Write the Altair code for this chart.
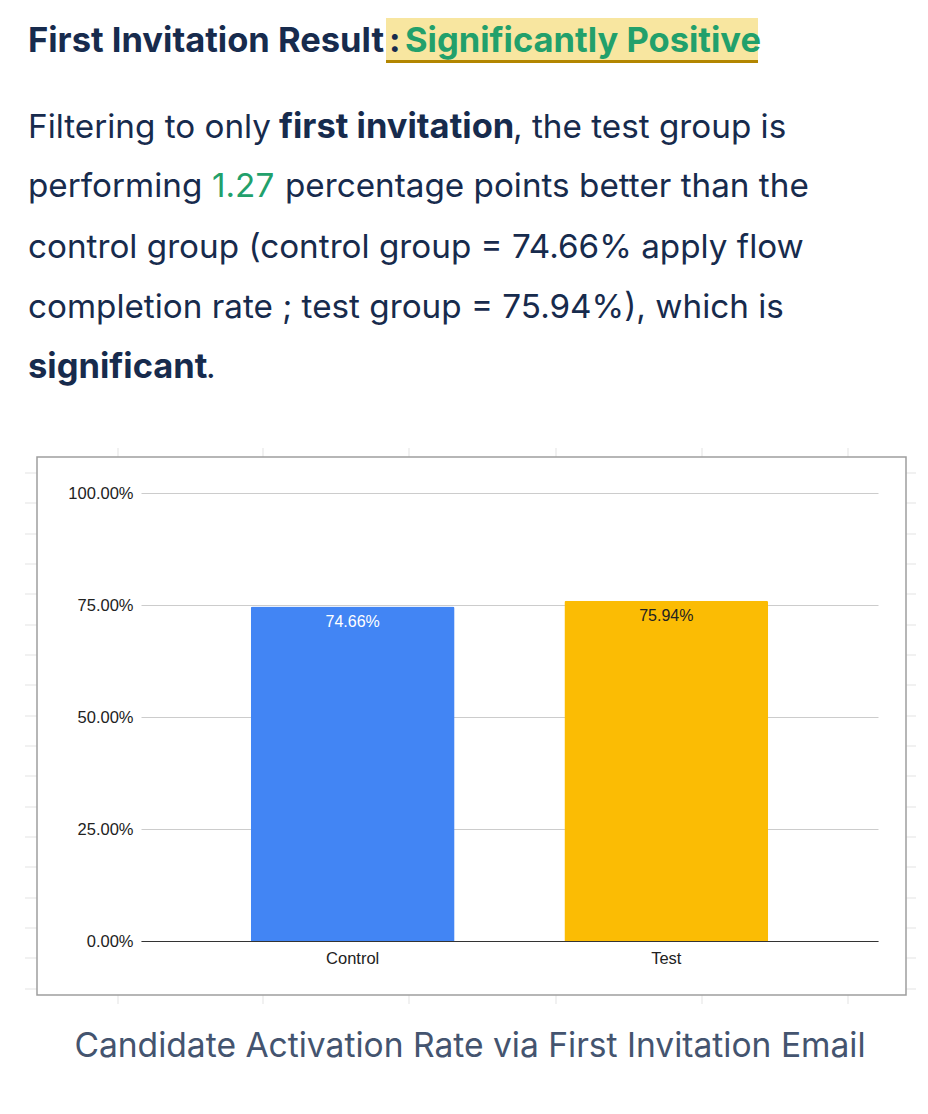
import altair as alt
import pandas as pd

# ---- data ----
groups = ["Control", "Test"]
rates = [0.7466, 0.7594]
rate_labels = ["74.66%", "75.94%"]
y_ticks = [0.0, 0.25, 0.5, 0.75, 1.0]

heading_main = "First Invitation Result"
heading_colon = ":"
heading_result = "Significantly Positive"

para_segments = [
    "Filtering to only", "first invitation", ", the test group is",
    "performing", "1.27", "percentage points better than the",
    "control group (control group = 74.66% apply flow",
    "completion rate ; test group = 75.94%), which is",
    "significant", ".",
]
caption = "Candidate Activation Rate via First Invitation Email"

df = pd.DataFrame({"group": groups, "rate": rates, "label": rate_labels})

# ---- layout (plot origin at page (141, 493)) ----
OX, OY = 141, 493
W, H = 737, 448
NAVY = "#172B4D"
GREEN = "#22A06B"
FONT = "Inter"
CHART_FONT = "Liberation Sans"
P_SIZE = 33.25
B_SIZE = 34.5


def px(x):
    return x - OX


def py(y):
    return y - OY


one = alt.Data(values=[{"k": 1}])


def txt(s, x, y, size=P_SIZE, weight="normal", color=NAVY, align="left", font=FONT):
    return alt.Chart(one).mark_text(
        text=s, font=font, fontSize=size, fontWeight=weight, color=color,
        align=align, baseline="alphabetic"
    ).encode(x=alt.value(px(x)), y=alt.value(py(y)))


def box(x1, x2, y1, y2, fill=None, stroke=None, sw=1):
    kw = {}
    if fill:
        kw["fill"] = fill
    else:
        kw["fillOpacity"] = 0
        kw["fill"] = "white"
    if stroke:
        kw["stroke"] = stroke
        kw["strokeWidth"] = sw
    return alt.Chart(one).mark_rect(**kw).encode(
        x=alt.value(px(x1)), x2=alt.value(px(x2)),
        y=alt.value(py(y1)), y2=alt.value(py(y2)))


back = []
# faint spreadsheet grid ticks around the chart frame
tick_cols = [118, 263, 409, 556, 702, 848]
tick_rows = [473, 503, 534, 564, 594, 625, 655, 685, 716, 746, 776, 807,
             837, 867, 898, 928, 958, 989]
seg_rows = []
for c in tick_cols:
    seg_rows.append({"x": px(c), "x2": px(c), "y": py(448), "y2": py(457)})
    seg_rows.append({"x": px(c), "x2": px(c), "y": py(995), "y2": py(1004)})
for r in tick_rows:
    seg_rows.append({"x": px(25), "x2": px(37), "y": py(r), "y2": py(r)})
    seg_rows.append({"x": px(906), "x2": px(916), "y": py(r), "y2": py(r)})
back.append(
    alt.Chart(alt.Data(values=seg_rows)).mark_rule(color="#E3E3E3", strokeWidth=1).encode(
        x=alt.X("x:Q", scale=None), x2="x2:Q",
        y=alt.Y("y:Q", scale=None), y2="y2:Q")
)

# heading highlight + underline
back.append(box(386, 758, 18, 60, fill="#F8E6A0"))
back.append(box(386, 758, 60, 63, fill="#B38600"))
back.append(txt(heading_main, 28, 52, size=B_SIZE, weight="bold"))
back.append(txt(heading_colon, 389, 52, size=B_SIZE, weight="bold"))
back.append(txt(heading_result, 405, 52, size=B_SIZE, weight="bold", color=GREEN))

# paragraph
seg_pos = [
    (28, 138, "normal", NAVY), (279, 138, "bold", NAVY), (513, 138, "normal", NAVY),
    (28, 197, "normal", NAVY), (212, 197, "normal", GREEN), (285, 197, "normal", NAVY),
    (28, 258, "normal", NAVY),
    (28, 318, "normal", NAVY),
    (28, 378, "bold", NAVY), (206, 378, "normal", NAVY),
]
for s, (x, y, w, c) in zip(para_segments, seg_pos):
    back.append(txt(s, x, y, size=(B_SIZE if w == "bold" else P_SIZE), weight=w, color=c))

# frame around the chart
back.append(box(37, 906, 457, 995, stroke="#9E9E9E", sw=1.5))

# caption
front = [txt(caption, 470, 1057, size=33.6, color="#44546F", align="center")]

base = alt.Chart(df)
x_enc = alt.X("group:N", sort=groups, title=None,
              scale=alt.Scale(paddingInner=0.35, paddingOuter=0.35),
              axis=alt.Axis(labelAngle=0, labelFont=CHART_FONT, labelFontSize=16.5,
                            labelColor="#222222", labelPadding=9, ticks=False,
                            domain=True, domainColor="#333333", domainWidth=1.2,
                            grid=False))
y_enc = alt.Y("rate:Q", title=None, scale=alt.Scale(domain=[0, 1]),
              axis=alt.Axis(values=y_ticks, format=".2%", labelFont=CHART_FONT,
                            labelFontSize=16.5, labelColor="#222222", labelPadding=8,
                            ticks=False, domain=False, grid=True,
                            gridColor="#CCCCCC", gridWidth=1))

bars = base.mark_bar(cornerRadiusTopLeft=2, cornerRadiusTopRight=2).encode(
    x=x_enc, y=y_enc,
    color=alt.Color("group:N", scale=alt.Scale(domain=groups, range=["#4285F4", "#FBBC04"]),
                    legend=None),
)
bar_text = base.mark_text(baseline="top", dy=7, font=CHART_FONT, fontSize=16).encode(
    x=alt.X("group:N", sort=groups),
    y=alt.Y("rate:Q"),
    text="label:N",
    color=alt.condition(alt.datum.group == "Control", alt.value("white"), alt.value("#222222")),
)

chart = alt.layer(*back, bars, bar_text, *front).properties(
    width=W, height=H,
    autosize=alt.AutoSizeParams(type="none"),
    padding={"left": 133, "top": 485, "right": 42, "bottom": 150},
    background="white",
).configure_view(stroke=None)

chart.save("out.html", embed_options={"renderer": "svg", "actions": False})
